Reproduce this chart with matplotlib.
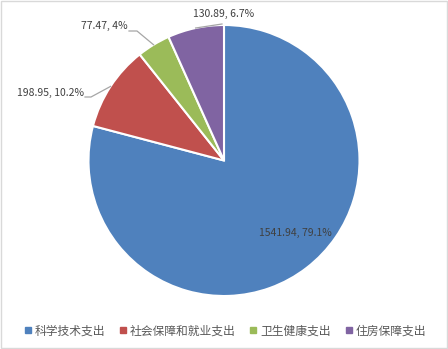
import numpy as np
import matplotlib.pyplot as plt
from matplotlib.lines import Line2D
from matplotlib.patches import Rectangle

plt.rcParams['font.family'] = ['Noto Sans CJK SC', 'DejaVu Sans']

categories = ['科学技术支出', '社会保障和就业支出', '卫生健康支出', '住房保障支出']
values = [1541.94, 198.95, 77.47, 130.89]
percents = ['79.1%', '10.2%', '4%', '6.7%']
colors = ['#4F81BD', '#C0504D', '#9BBB59', '#8064A2']

W, H = 448, 349
fig = plt.figure(figsize=(W / 100, H / 100), dpi=100)
ax = fig.add_axes([0, 0, 1, 1])

cx, cy, r = 224, 160.5, 135.5
# pie draws in y-up coords, so the image y is negated
wedges, _ = ax.pie(values, colors=colors, startangle=90, counterclock=False,
                   center=(cx, -cy), radius=r,
                   wedgeprops=dict(edgecolor='white', linewidth=1.5))
ax.set_xlim(0, W)
ax.set_ylim(-H, 0)
ax.set_aspect('auto')
ax.axis('off')

txt_color = '#404040'
labels = [f'{v:g}, {p}' for v, p in zip(values, percents)]

# inside label for the big slice
ax.text(295, -233, labels[0], ha='center', va='center', fontsize=7.5, color=txt_color)

# outside labels with leader lines
outside = {
    1: dict(text=(84, -93), elbow=(91, -97), ha='right'),
    2: dict(text=(128, -26), elbow=(137, -31), ha='right'),
    3: dict(text=(224, -14), elbow=(222, -24), ha='center'),
}
for i, o in outside.items():
    w = wedges[i]
    mid = np.deg2rad((w.theta1 + w.theta2) / 2)
    ex = cx + r * np.cos(mid)
    ey = -cy + r * np.sin(mid)
    ax.text(o['text'][0], o['text'][1], labels[i], ha=o['ha'], va='center',
            fontsize=7.5, color=txt_color)
    if i == 3:
        xs = [o['elbow'][0], ex]
        ys = [o['elbow'][1], ey]
    else:
        xs = [o['text'][0] + 1, o['elbow'][0], ex]
        ys = [o['elbow'][1], o['elbow'][1], ey]
    ax.add_line(Line2D(xs, ys, color='#A6A6A6', linewidth=0.9, zorder=5))

handles = [Line2D([], [], marker='s', linestyle='', markersize=5,
                  markerfacecolor=c, markeredgecolor=c) for c in colors]
fig.legend(handles, categories, loc='center', bbox_to_anchor=(0.5, 0.052),
           ncol=4, frameon=False, fontsize=8.5, handletextpad=0.1,
           columnspacing=1.0, handlelength=1.0, labelcolor='#595959')

fig.patches.append(Rectangle((0.002, 0.003), 0.995, 0.994, transform=fig.transFigure,
                             fill=False, edgecolor='#D9D9D9', linewidth=1))

fig.savefig('out.png', dpi=100)
